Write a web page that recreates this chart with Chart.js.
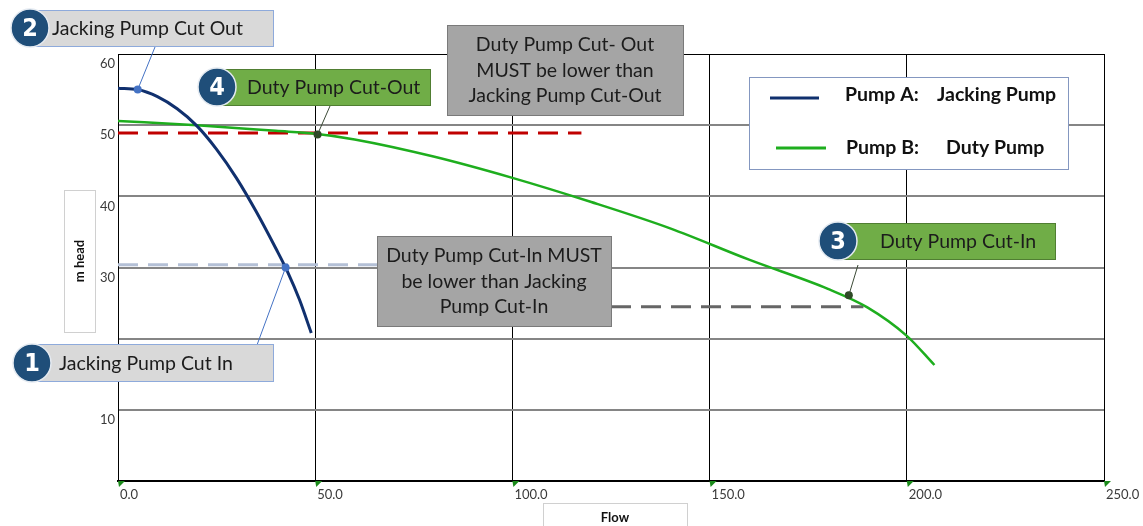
<!DOCTYPE html>
<html>
<head>
<meta charset="utf-8">
<script src="https://cdn.jsdelivr.net/npm/chart.js@4.4.0/dist/chart.umd.min.js"></script>
<style>
  html, body { margin: 0; padding: 0; background: #fff; }
  #wrap { width: 1143px; height: 526px; }
</style>
</head>
<body>
<div id="wrap"><canvas id="pump-graph"></canvas></div>
<script>
// pump curves (flow, m head)
const pumpAFlow = [0, 5, 10, 15, 20, 25, 30, 35, 40, 43, 46, 49]
const pumpAHead = [55.2, 55.0, 54.0, 52.3, 49.9, 46.6, 42.6, 37.9, 32.7, 29.4, 25.5, 20.8]
const pumpBFlow = [0, 20, 40, 50, 60, 80, 100, 120, 140, 160, 180, 190, 200, 207]
const pumpBHead = [50.6, 50.0, 49.2, 48.8, 48.0, 45.6, 42.6, 39.2, 35.5, 31.1, 27.0, 24.4, 20.4, 16.3]

// cut-in / cut-out levels
const dutyCutOutFlow = [0, 117.5]
const dutyCutOutHead = [48.9, 48.9]
const jackCutInFlow = [0, 66]
const jackCutInHead = [30.4, 30.4]
const dutyCutInFlow = [125, 189]
const dutyCutInHead = [24.5, 24.5]

// callout points: 2 jacking cut out, 1 jacking cut in, 4 duty cut out, 3 duty cut in
const calloutNums = ['2', '1', '4', '3']
const calloutText = ['Jacking Pump Cut Out', 'Jacking Pump Cut In', 'Duty Pump Cut-Out', 'Duty Pump Cut-In']
const calloutFlow = [5, 42.5, 50.6, 185.3]
const calloutHead = [55.0, 30.0, 48.7, 26.1]

const flowTicks = [0, 50, 100, 150, 200, 250]
const headTicks = [0, 10, 20, 30, 40, 50, 60]
const hiddenHeadLabels = [0, 20] // no label shown in the picture (20 sits under callout 1)

const noteTop = ['Duty Pump Cut- Out', 'MUST be lower than', 'Jacking Pump Cut-Out']
const noteBottom = ['Duty Pump Cut-In MUST', 'be lower than Jacking', 'Pump Cut-In']
const legendNames = [['Pump A:', 'Jacking Pump'], ['Pump B:', 'Duty Pump']]

const NAVY = '#10306e'
const GREEN = '#1eae1e'
const FONT = 'Lato, "Liberation Sans", sans-serif'

const toXY = (xs, ys) => xs.map((x, i) => ({ x: x, y: ys[i] }))

// placement of the boxes drawn over the chart
const calloutBoxes = [
    { box: [35, 10, 238, 36], circle: [30, 28], textX: 52, fill: '#d9d9d9', stroke: '#8eaadb', tip: [155, 47], lead: '#4472c4' },
    { box: [38, 344, 235, 37], circle: [32, 363], textX: 59, fill: '#d9d9d9', stroke: '#8eaadb', tip: [257, 345], lead: '#4472c4' },
    { box: [218, 69, 212, 36], circle: [217, 87], textX: 247, fill: '#70ad47', stroke: '#507e32', tip: [330, 106], lead: '#3b4a36' },
    { box: [840, 223, 215, 36], circle: [838, 241], textX: 880, fill: '#70ad47', stroke: '#507e32', tip: [858, 265], lead: '#3b4a36' }
]

function badge(ctx, cx, cy, num){
    ctx.beginPath()
    ctx.arc(cx, cy, 19, 0, Math.PI * 2)
    ctx.fillStyle = '#1f4e79'
    ctx.fill()
    ctx.lineWidth = 1.5
    ctx.strokeStyle = '#e4eaf1'
    ctx.stroke()
    ctx.fillStyle = '#fff'
    ctx.font = 'bold 25px "Liberation Sans Narrow", "DejaVu Sans Condensed", sans-serif'
    ctx.textAlign = 'center'
    ctx.textBaseline = 'middle'
    ctx.fillText(num, cx, cy + 1)
}

function noteBox(ctx, x, y, w, h, lines, lineY){
    ctx.fillStyle = '#a5a5a5'
    ctx.fillRect(x, y, w, h)
    ctx.lineWidth = 1
    ctx.strokeStyle = '#7a7a7a'
    ctx.strokeRect(x + 0.5, y + 0.5, w, h)
    ctx.fillStyle = '#1c1c1c'
    ctx.font = '19.5px ' + FONT
    ctx.textAlign = 'center'
    ctx.textBaseline = 'middle'
    lines.forEach((t, i) => ctx.fillText(t, x + w / 2, lineY[i]))
}

const overlay = {
    id: 'overlay',
    afterDraw(chart){
        const ctx = chart.ctx
        const xs = chart.scales.x
        const ys = chart.scales.y
        ctx.save()

        // little green tick flags under the flow axis
        ctx.fillStyle = '#1a8a1a'
        flowTicks.forEach(v => {
            const px = xs.getPixelForValue(v)
            ctx.beginPath()
            ctx.moveTo(px, ys.bottom)
            ctx.lineTo(px + 7, ys.bottom)
            ctx.lineTo(px + 1, ys.bottom + 6)
            ctx.closePath()
            ctx.fill()
        })

        // axis title boxes
        ctx.fillStyle = '#fff'
        ctx.strokeStyle = '#d0d0d0'
        ctx.lineWidth = 1
        ctx.fillRect(64, 190, 31, 142)
        ctx.strokeRect(64.5, 190.5, 31, 142)
        ctx.fillRect(543, 503, 144, 30)
        ctx.strokeRect(543.5, 503.5, 144, 30)
        ctx.fillStyle = '#111'
        ctx.font = 'bold 13px ' + FONT
        ctx.textAlign = 'center'
        ctx.textBaseline = 'middle'
        ctx.fillText('Flow', 615, 518)
        ctx.save()
        ctx.translate(80, 261)
        ctx.rotate(-Math.PI / 2)
        ctx.fillText('m head', 0, 0)
        ctx.restore()

        // leader lines from the marked points to their boxes
        calloutBoxes.forEach((c, i) => {
            ctx.beginPath()
            ctx.moveTo(xs.getPixelForValue(calloutFlow[i]), ys.getPixelForValue(calloutHead[i]))
            ctx.lineTo(c.tip[0], c.tip[1])
            ctx.strokeStyle = c.lead
            ctx.lineWidth = 1
            ctx.stroke()
        })

        // numbered callout boxes
        calloutBoxes.forEach((c, i) => {
            const [bx, by, bw, bh] = c.box
            ctx.fillStyle = c.fill
            ctx.fillRect(bx, by, bw, bh)
            ctx.strokeStyle = c.stroke
            ctx.lineWidth = 1
            ctx.strokeRect(bx + 0.5, by + 0.5, bw, bh)
            badge(ctx, c.circle[0], c.circle[1], calloutNums[i])
            ctx.fillStyle = '#1c1c1c'
            ctx.font = '19.5px ' + FONT
            ctx.textAlign = 'left'
            ctx.textBaseline = 'middle'
            ctx.fillText(calloutText[i], c.textX, by + bh / 2 + 1)
        })

        // grey notes
        noteBox(ctx, 447, 25, 236, 90, noteTop, [45, 71, 96])
        noteBox(ctx, 377, 236, 234, 90, noteBottom, [256, 282, 307])

        // legend
        ctx.fillStyle = '#fff'
        ctx.fillRect(749, 77, 319, 92)
        ctx.strokeStyle = '#8497c0'
        ctx.lineWidth = 1
        ctx.strokeRect(749.5, 77.5, 319, 92)
        ctx.lineWidth = 3
        ctx.strokeStyle = NAVY
        ctx.beginPath(); ctx.moveTo(770, 98); ctx.lineTo(819, 98); ctx.stroke()
        ctx.strokeStyle = GREEN
        ctx.beginPath(); ctx.moveTo(776, 148); ctx.lineTo(826, 148); ctx.stroke()
        ctx.fillStyle = '#111'
        ctx.font = 'bold 19.5px ' + FONT
        ctx.textAlign = 'left'
        ctx.textBaseline = 'middle'
        ctx.fillText(legendNames[0][0], 845, 95)
        ctx.fillText(legendNames[0][1], 937, 95)
        ctx.fillText(legendNames[1][0], 846, 148)
        ctx.fillText(legendNames[1][1], 946, 148)

        ctx.restore()
    }
}

const dashed = (label, xs, ys, color) => ({
    label: label,
    data: toXY(xs, ys),
    borderColor: color,
    borderWidth: 3,
    borderDash: [20, 10],
    pointRadius: 0,
    fill: false
})

const ctx = document.getElementById('pump-graph').getContext('2d')
const pumpChart = new Chart(ctx, {
    type: 'line',
    data: {
        datasets: [
            {
                label: 'markers',
                data: toXY(calloutFlow, calloutHead),
                showLine: false,
                pointRadius: 4,
                pointBorderWidth: 0,
                pointBackgroundColor: ['#4472c4', '#4472c4', '#2f4a26', '#2f4a26']
            },
            {
                label: 'Pump A: Jacking Pump',
                data: toXY(pumpAFlow, pumpAHead),
                borderColor: NAVY,
                borderWidth: 3,
                pointRadius: 0,
                cubicInterpolationMode: 'monotone',
                fill: false
            },
            {
                label: 'Pump B: Duty Pump',
                data: toXY(pumpBFlow, pumpBHead),
                borderColor: GREEN,
                borderWidth: 2.5,
                pointRadius: 0,
                cubicInterpolationMode: 'monotone',
                fill: false
            },
            dashed('duty cut out', dutyCutOutFlow, dutyCutOutHead, '#c00000'),
            dashed('jacking cut in', jackCutInFlow, jackCutInHead, '#b4c0d6'),
            dashed('duty cut in', dutyCutInFlow, dutyCutInHead, '#666666')
        ]
    },
    options: {
        responsive: true,
        maintainAspectRatio: false,
        animation: false,
        layout: { padding: { top: 54, right: 39, left: 0, bottom: 0 } },
        plugins: {
            legend: { display: false },
            tooltip: { enabled: false }
        },
        scales: {
            x: {
                type: 'linear',
                min: 0,
                max: 250,
                afterBuildTicks: s => { s.ticks = flowTicks.map(v => ({ value: v })) },
                afterFit: s => { s.height = 45; s.paddingLeft = 0; s.paddingRight = 0 },
                ticks: {
                    align: 'start',
                    labelOffset: 2,
                    padding: 6,
                    maxRotation: 0,
                    autoSkip: false,
                    color: '#3a3a3a',
                    font: { family: FONT, size: 13 },
                    callback: v => v.toFixed(1)
                },
                grid: { color: '#000', lineWidth: 1, drawTicks: false },
                border: { color: '#000', width: 2 }
            },
            y: {
                min: 0,
                max: 60,
                afterBuildTicks: s => { s.ticks = headTicks.map(v => ({ value: v })) },
                afterFit: s => { s.width = 118; s.paddingTop = 0; s.paddingBottom = 0 },
                ticks: {
                    labelOffset: 10,
                    padding: 3,
                    color: '#3a3a3a',
                    font: { family: FONT, size: 13 },
                    callback: v => hiddenHeadLabels.includes(v) ? '' : v
                },
                grid: {
                    color: c => c.tick && c.tick.value === 60 ? '#000' : '#858585',
                    lineWidth: c => c.tick && c.tick.value === 60 ? 1 : 2,
                    drawTicks: false
                },
                border: { color: '#000', width: 1 }
            }
        }
    },
    plugins: [overlay]
})
</script>
</body>
</html>
